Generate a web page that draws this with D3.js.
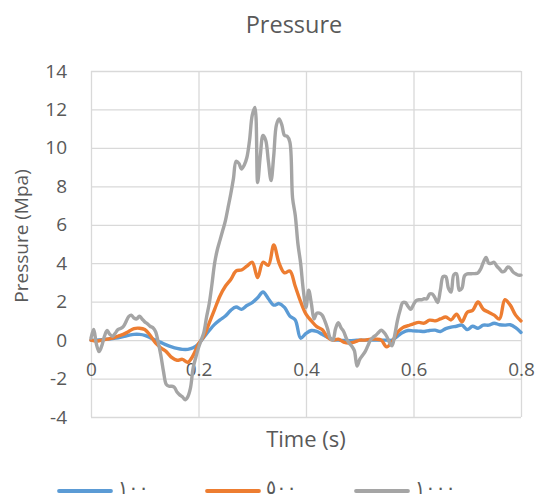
<!DOCTYPE html>
<html>
<head>
<meta charset="utf-8">
<script src="https://cdnjs.cloudflare.com/ajax/libs/d3/7.8.5/d3.min.js"></script>
<style>
    body { margin: 0; background: #fff; }
    text { font-family: "Open Sans", "DejaVu Sans", sans-serif; fill: #595959; }
    .grid line { stroke: #d9d9d9; stroke-width: 1.3; }
    .grid path { display: none; }
    .axis path { display: none; }
    .axis line { display: none; }
</style>
</head>
<body>
<div id="chart"></div>
<script>

// Time samples (s)
var timeCoarse = d3.range(0, 81).map(function(i) { return i / 100; });
var timeFine = d3.range(0, 161).map(function(i) { return i / 200; });

// Series labels and values (MPa)
var seriesNames = ["١٠٠", "٥٠٠", "١٠٠٠"];
var seriesColors = ["#5b9bd5", "#ed7d31", "#a5a5a5"];

var values100 = [
    0.0, 0.0, 0.02, 0.05, 0.08, 0.12, 0.18, 0.25, 0.3, 0.3,
    0.25, 0.12, 0.0, -0.12, -0.25, -0.35, -0.43, -0.48, -0.48, -0.4,
    -0.2, 0.15, 0.5, 0.82, 1.05, 1.25, 1.55, 1.72, 1.6, 1.8,
    1.95, 2.2, 2.5, 2.15, 1.82, 1.9, 1.7, 1.25, 1.05, 0.1,
    0.35, 0.5, 0.45, 0.3, 0.15, 0.03, 0.0, -0.02, -0.03, -0.02,
    0.0, 0.0, 0.0, 0.0, 0.0, 0.0, 0.0, 0.2, 0.4, 0.5,
    0.48, 0.47, 0.45, 0.5, 0.52, 0.45, 0.6, 0.68, 0.72, 0.78,
    0.55, 0.72, 0.62, 0.78, 0.78, 0.88, 0.8, 0.78, 0.8, 0.65,
    0.4
];

var values500 = [
    0.0, -0.05, 0.0, 0.05, 0.1, 0.2, 0.3, 0.45, 0.6, 0.62,
    0.55, 0.25, -0.15, -0.4, -0.6, -0.9, -1.05, -1.0, -1.15, -0.8,
    -0.2, 0.2, 0.9, 1.6, 2.3, 2.8, 3.15, 3.6, 3.65, 3.85,
    4.05, 3.25, 4.05, 3.9, 4.95, 4.0, 3.5, 3.6, 2.8, 2.0,
    1.35, 1.0, 0.7, 0.55, 0.15, 0.0, 0.05, -0.1, -0.15, -0.1,
    0.0, 0.0, 0.05, 0.05, 0.0, -0.35, -0.1, 0.4, 0.65, 0.75,
    0.85, 0.92, 0.88, 1.04, 1.0, 1.1, 1.2, 1.05, 1.35, 0.95,
    1.45, 1.55, 1.98, 1.6, 1.45, 1.3, 1.1, 2.1, 1.82, 1.3,
    1.0
];

var values1000 = [
    0.1, 0.55, -0.2, -0.6, -0.3, 0.2, 0.5, 0.3, 0.2, 0.35,
    0.55, 0.6, 0.7, 0.95, 1.22, 1.3, 1.15, 1.1, 1.25, 1.1,
    0.95, 0.85, 0.72, 0.65, 0.45, -0.1, -0.8, -1.65, -2.3, -2.4,
    -2.4, -2.45, -2.7, -2.85, -2.95, -3.1, -2.95, -2.5, -1.45, -0.9,
    -0.4, 0.0, 0.4, 1.2, 1.9, 2.9, 4.0, 4.7, 5.2, 5.7,
    6.2, 6.9, 7.6, 8.4, 9.3, 9.2, 8.9, 9.1, 9.5, 10.4,
    11.7, 12.1, 8.2, 9.6, 10.65, 10.4, 9.3, 8.3, 9.6, 11.2,
    11.5, 11.2, 10.65, 10.6, 10.3, 7.4, 6.5, 5.0, 4.0, 2.6,
    1.7, 2.6, 1.9, 1.1, 1.4, 1.4, 1.3, 1.0, 0.6, 0.1,
    0.0, 0.6, 0.9, 0.65, 0.45, 0.1, -0.15, -0.3, -0.55, -1.35,
    -1.0, -0.8, -0.6, -0.3, 0.0, 0.15, 0.25, 0.4, 0.52, 0.4,
    0.2, -0.1, -0.3, 0.25, 1.0, 1.55, 1.95, 1.95, 1.75, 1.6,
    1.85, 2.05, 2.1, 2.1, 2.15, 2.15, 2.4, 2.4, 2.2, 1.95,
    2.6, 3.3, 3.3, 2.7, 2.5, 3.4, 3.45, 2.6, 2.7, 3.35,
    3.45, 3.45, 3.46, 3.46, 3.5, 3.7, 4.05, 4.3, 4.0, 4.0,
    4.05, 3.85, 3.7, 3.55, 3.6, 3.8, 3.75, 3.55, 3.45, 3.38,
    3.38
];

var xTicks = [0, 0.2, 0.4, 0.6, 0.8];
var yTicks = [-4, -2, 0, 2, 4, 6, 8, 10, 12, 14];

var series = [
    { name: seriesNames[0], color: seriesColors[0], values: timeCoarse.map(function(t, i) { return { t: t, v: values100[i] }; }) },
    { name: seriesNames[1], color: seriesColors[1], values: timeCoarse.map(function(t, i) { return { t: t, v: values500[i] }; }) },
    { name: seriesNames[2], color: seriesColors[2], values: timeFine.map(function(t, i) { return { t: t, v: values1000[i] }; }) }
];

var margin = { top: 71, right: 15, bottom: 82, left: 91 };
var totalW = 536, totalH = 499;
var width = totalW - margin.left - margin.right,
    height = totalH - margin.top - margin.bottom;

var svg = d3.select("#chart").append("svg")
    .attr("width", totalW)
    .attr("height", totalH);

var g = svg.append("g")
    .attr("transform", "translate(" + margin.left + "," + margin.top + ")");

// Scales
var x = d3.scaleLinear().domain([0, 0.8]).range([0, width]);
var y = d3.scaleLinear().domain([-4, 14]).range([height, 0]);

// Gridlines
g.append("g")
    .attr("class", "grid")
    .call(d3.axisLeft(y).tickValues(yTicks).tickSize(-width).tickFormat(""));

g.append("g")
    .attr("class", "grid")
    .attr("transform", "translate(0," + height + ")")
    .call(d3.axisBottom(x).tickValues(xTicks).tickSize(-height).tickFormat(""));

// Axis labels (plain hyphen for negatives, like the original)
var yAxis = g.append("g")
    .attr("class", "axis")
    .call(d3.axisLeft(y).tickValues(yTicks).tickSize(0).tickPadding(24)
        .tickFormat(function(d) { return String(d); }));
yAxis.selectAll("text").style("font-size", "19px").style("font-family", null);

var xAxis = g.append("g")
    .attr("class", "axis")
    .attr("transform", "translate(0," + y(0) + ")")
    .call(d3.axisBottom(x).tickValues(xTicks).tickSize(0).tickPadding(22)
        .tickFormat(function(d) { return d === 0 ? "0" : d.toFixed(1); }));
xAxis.selectAll("text").style("font-size", "19px").style("font-family", null);

// Lines
var line = d3.line()
    .x(function(d) { return x(d.t); })
    .y(function(d) { return y(d.v); })
    .curve(d3.curveCatmullRom.alpha(0.5));

g.selectAll(".series")
    .data(series)
    .enter().append("path")
    .attr("class", "series")
    .attr("fill", "none")
    .attr("stroke", function(d) { return d.color; })
    .attr("stroke-width", 3.4)
    .attr("stroke-linejoin", "round")
    .attr("stroke-linecap", "round")
    .attr("d", function(d) { return line(d.values); });

// Titles
svg.append("text")
    .attr("x", 294)
    .attr("y", 33)
    .attr("text-anchor", "middle")
    .style("font-size", "23.5px")
    .text("Pressure");

svg.append("text")
    .attr("transform", "translate(28," + 236 + ") rotate(-90)")
    .attr("text-anchor", "middle")
    .style("font-size", "19px")
    .text("Pressure (Mpa)");

svg.append("text")
    .attr("x", 306)
    .attr("y", 447)
    .attr("text-anchor", "middle")
    .style("font-size", "22px")
    .text("Time (s)");

// Legend
var legendX = [59, 207, 356];
var legend = svg.selectAll(".legend")
    .data(series)
    .enter().append("g")
    .attr("class", "legend")
    .attr("transform", function(d, i) { return "translate(" + legendX[i] + ",491)"; });

legend.append("line")
    .attr("x1", 0).attr("x2", 52)
    .attr("y1", 0).attr("y2", 0)
    .attr("stroke", function(d) { return d.color; })
    .attr("stroke-width", 3.8)
    .attr("stroke-linecap", "round");

legend.append("text")
    .attr("x", 59)
    .attr("y", 3)
    .style("font-size", "19px")
    .text(function(d) { return d.name; });

</script>
</body>
</html>
